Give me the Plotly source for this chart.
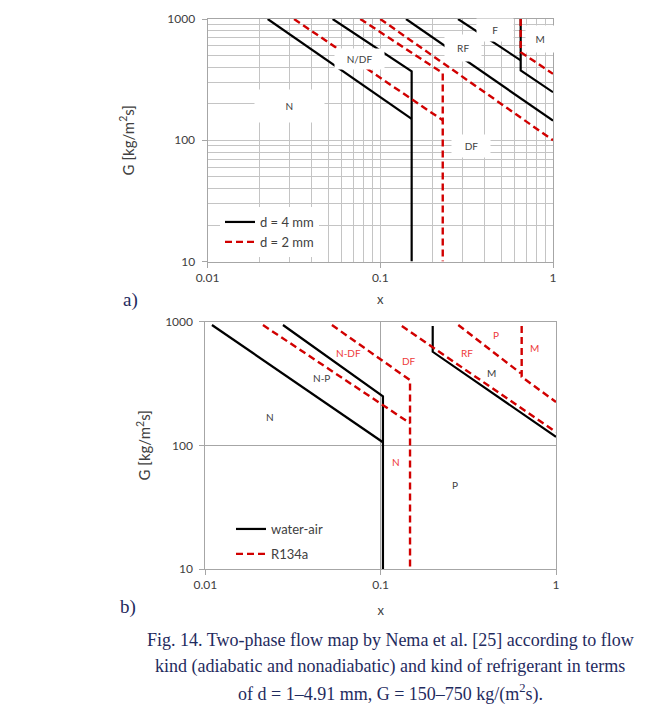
import math
import plotly.graph_objects as go

# ---------------- data: a) tube diameter comparison ----------------
# d = 4 mm boundaries (segments separated by None)
a_d4_x = [0.0223, 0.152, None, 0.053, 0.152, 0.152, None, 0.141, 1.0, None,
          0.282, 0.65, None, 0.65, 0.65, 1.0]
a_d4_G = [1000, 150, None, 1000, 370, 10, None, 1000, 145, None,
          1000, 456, None, 1000, 377, 249]
# d = 2 mm boundaries
a_d2_x = [0.0317, 0.23, None, 0.0766, 0.23, 0.23, None, 0.1, 1.0, None,
          0.65, 0.65, 1.0]
a_d2_G = [1000, 146, None, 1000, 358, 10, None, 1000, 100, None,
          1000, 533, 353]
# regime labels
a_lab_text = ["N", "N/DF", "RF", "F", "M", "DF"]
a_lab_x = [0.0297, 0.0755, 0.303, 0.464, 0.846, 0.333]
a_lab_G = [191, 467, 576, 811, 684, 89]

# ---------------- data: b) fluid comparison ----------------
b_wa_x = [0.0109, 0.103, None, 0.0277, 0.103, 0.103, None, 0.198, 0.198, 1.0]
b_wa_G = [940, 106, None, 940, 249, 10, None, 923, 571, 117]
b_r134_x = [0.0213, 0.147, None, 0.0527, 0.147, 0.147, None, 0.132, 1.0, None,
            0.277, 0.63, None, 0.637, 0.637, 1.0]
b_r134_G = [940, 151, None, 940, 337, 10, None, 923, 128, None,
            940, 382, None, 923, 358, 224]
b_lab_text = ["N", "N-P", "M", "P", "N-DF", "DF", "RF", "P", "M", "N"]
b_lab_x = [0.0234, 0.0462, 0.431, 0.265, 0.0659, 0.145, 0.311, 0.455, 0.749, 0.122]
b_lab_G = [169, 349, 384, 47.5, 557, 480, 557, 780, 612, 74]
b_lab_red = [False, False, False, False, True, True, True, True, True, True]

# ---------------- axis ticks ----------------
x_ticks = [0.01, 0.1, 1]
x_ticktext = ["0.01", "0.1", "1"]
G_ticks = [10, 100, 1000]
G_ticktext = ["10", "100", "1000"]
x_minor = [m * 10 ** e for e in (-2, -1) for m in range(2, 10)]
G_minor = [m * 10 ** e for e in (1, 2) for m in range(2, 10)]

BLACK = "#000000"
RED = "#d10000"
LABRED = "#ee3a3a"
GRID = "#c4c4c4"
AXIS = "#a6a6a6"
TXT = "#404040"
NAVY = "#1f2b5e"
FONT = "Lato"

fig = go.Figure()

fig.add_trace(go.Scatter(x=a_d4_x, y=a_d4_G, mode="lines", name="d = 4 mm",
                         line=dict(color=BLACK, width=2.2), xaxis="x", yaxis="y",
                         legend="legend", legendgroup="a1"))
fig.add_trace(go.Scatter(x=a_d2_x, y=a_d2_G, mode="lines", name="d = 2 mm",
                         line=dict(color=RED, width=2.4, dash="7px,4px"),
                         xaxis="x", yaxis="y", legend="legend", legendgroup="a2"))
fig.add_trace(go.Scatter(x=b_wa_x, y=b_wa_G, mode="lines", name="water-air",
                         line=dict(color=BLACK, width=2.2), xaxis="x2", yaxis="y2",
                         legend="legend2", legendgroup="b1"))
fig.add_trace(go.Scatter(x=b_r134_x, y=b_r134_G, mode="lines", name="R134a",
                         line=dict(color=RED, width=2.4, dash="7px,4px"),
                         xaxis="x2", yaxis="y2", legend="legend2", legendgroup="b2"))

annotations = []
# boxed regime labels on the gridded map (log axes take log10 positions);
# each white box is widened with side spaces and padded vertically
box_style = [(8, 10), (3, 4), (2, 7), (4, 5), (1, 7), (3, 5)]
for t, xv, gv, (side, pad) in zip(a_lab_text, a_lab_x, a_lab_G, box_style):
    sp = "&nbsp;" * side
    annotations.append(dict(x=math.log10(xv), y=math.log10(gv), xref="x", yref="y",
                            text=sp + t + sp, showarrow=False,
                            font=dict(family=FONT, size=10, color=TXT),
                            bgcolor="white", borderpad=pad))
for t, xv, gv, red in zip(b_lab_text, b_lab_x, b_lab_G, b_lab_red):
    annotations.append(dict(x=math.log10(xv), y=math.log10(gv), xref="x2", yref="y2",
                            text=t, showarrow=False,
                            font=dict(family=FONT, size=10, color=LABRED if red else TXT)))

for lab, ypx, xpx in (("a)", 300, 130), ("b)", 607, 128)):
    annotations.append(dict(x=xpx / 669, y=1 - ypx / 720, xref="paper", yref="paper",
                            xanchor="center", yanchor="middle", text=lab, showarrow=False,
                            font=dict(family="Liberation Serif", size=19, color=NAVY)))
caption = ["Fig. 14. Two-phase flow map by Nema et al. [25] according to flow",
           "kind (adiabatic and nonadiabatic) and kind of refrigerant in terms",
           "of d = 1\u20134.91 mm, G = 150\u2013750 kg/(m<sup>2</sup>s)."]
for i, line in enumerate(caption):
    annotations.append(dict(x=390 / 669, y=1 - (640 + 26.5 * i) / 720,
                            xref="paper", yref="paper", xanchor="center", yanchor="middle",
                            text=line, showarrow=False,
                            font=dict(family="Liberation Serif", size=18, color=NAVY)))


def x_axis(domain, anchor, minor, standoff):
    ax = dict(type="log", range=[-2, 0], domain=domain, anchor=anchor, automargin=False,
              tickmode="array", tickvals=x_ticks, ticktext=x_ticktext,
              ticks="outside", ticklen=5, tickcolor=AXIS,
              showline=True, linecolor=AXIS, mirror=True, zeroline=False,
              showgrid=True, gridcolor=GRID if minor else AXIS,
              tickfont=dict(family=FONT, size=12, color=TXT),
              title=dict(text="x", font=dict(family=FONT, size=13, color=TXT),
                         standoff=standoff))
    if minor:
        ax["minor"] = dict(tickmode="array", tickvals=x_minor, showgrid=True,
                           gridcolor=GRID, ticks="")
    return ax


def g_axis(domain, anchor, minor, standoff):
    ax = dict(type="log", range=[1, 3], domain=domain, anchor=anchor, automargin=False,
              tickmode="array", tickvals=G_ticks, ticktext=G_ticktext,
              ticks="outside", ticklen=5, tickcolor=AXIS, ticklabelstandoff=4,
              showline=True, linecolor=AXIS, mirror=True, zeroline=False,
              showgrid=True, gridcolor=GRID if minor else AXIS,
              tickfont=dict(family=FONT, size=12, color=TXT),
              title=dict(text="G [kg/m<sup>2</sup>s]",
                         font=dict(family=FONT, size=15, color=TXT), standoff=standoff))
    if minor:
        ax["minor"] = dict(tickmode="array", tickvals=G_minor, showgrid=True,
                           gridcolor=GRID, ticks="")
    return ax


fig.update_layout(
    width=669, height=720, margin=dict(l=0, r=0, t=0, b=0),
    paper_bgcolor="white", plot_bgcolor="white",
    xaxis=x_axis([207.5 / 669, 553 / 669], "y", True, 10),
    yaxis=g_axis([1 - 261.5 / 720, 1 - 19 / 720], "x", True, 29),
    xaxis2=x_axis([205.4 / 669, 556 / 669], "y2", False, 14),
    yaxis2=g_axis([1 - 569 / 720, 1 - 321.7 / 720], "x2", False, 10),
    legend=dict(x=220 / 669, y=1 - 207 / 720, xanchor="left", yanchor="top",
                bgcolor="white", traceorder="grouped", tracegroupgap=0,
                font=dict(family=FONT, size=13, color=TXT)),
    legend2=dict(x=231 / 669, y=1 - 514 / 720, xanchor="left", yanchor="top",
                 bgcolor="rgba(0,0,0,0)", traceorder="grouped", tracegroupgap=5,
                 font=dict(family=FONT, size=13, color=TXT)),
    annotations=annotations,
)

fig.write_html("out.html")
